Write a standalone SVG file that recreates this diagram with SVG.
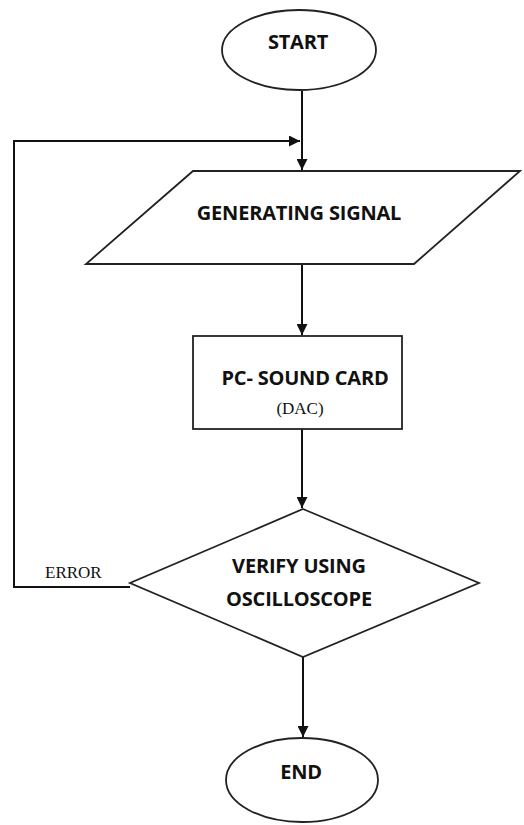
<svg xmlns="http://www.w3.org/2000/svg" width="524" height="825" viewBox="0 0 524 825">
<defs>
<marker id="arr" viewBox="0 0 10 10" refX="10" refY="5" markerWidth="11" markerHeight="11" markerUnits="userSpaceOnUse" orient="auto">
<path d="M0,0 L10,5 L0,10 z" fill="#111"/>
</marker>
<style>
.shape{fill:#fff;stroke:#222;stroke-width:1.8}
.lbl{font-family:"Open Sans","Liberation Sans",sans-serif;font-weight:bold;font-size:20px;fill:#111;text-anchor:middle;letter-spacing:-0.2px}
.ser{font-family:"Liberation Serif",serif;font-size:17px;fill:#111}
.ln{fill:none;stroke:#111;stroke-width:2}
</style>
</defs>
<rect width="524" height="825" fill="#fff"/>
<g id="connectors">
<path class="ln" d="M302,91 L302,170" marker-end="url(#arr)"/>
<path class="ln" d="M130,587 L14,587 L14,141 L300,141" marker-end="url(#arr)"/>
<path class="ln" d="M302,264 L302,335" marker-end="url(#arr)"/>
<path class="ln" d="M302,429 L302,508" marker-end="url(#arr)"/>
<path class="ln" d="M303,657 L303,737" marker-end="url(#arr)"/>
<text class="ser" x="45" y="578">ERROR</text>
</g>
<g id="start">
<ellipse class="shape" cx="299" cy="50" rx="77" ry="40"/>
<text class="lbl" x="298" y="49">START</text>
</g>
<g id="generate">
<polygon class="shape" points="193,171 520,171 414,264 86,264"/>
<text class="lbl" x="299" y="220">GENERATING SIGNAL</text>
</g>
<g id="soundcard">
<rect class="shape" x="193" y="336" width="209" height="93"/>
<text class="lbl" x="305" y="385">PC- SOUND CARD</text>
<text class="ser" x="300" y="414" text-anchor="middle">(DAC)</text>
</g>
<g id="verify">
<polygon class="shape" points="303,509 479,583 303,657 130,583"/>
<text class="lbl" x="299" y="573">VERIFY USING</text>
<text class="lbl" x="299" y="606">OSCILLOSCOPE</text>
</g>
<g id="end">
<ellipse class="shape" cx="302" cy="780" rx="76" ry="42"/>
<text class="lbl" x="301" y="779">END</text>
</g>
</svg>
